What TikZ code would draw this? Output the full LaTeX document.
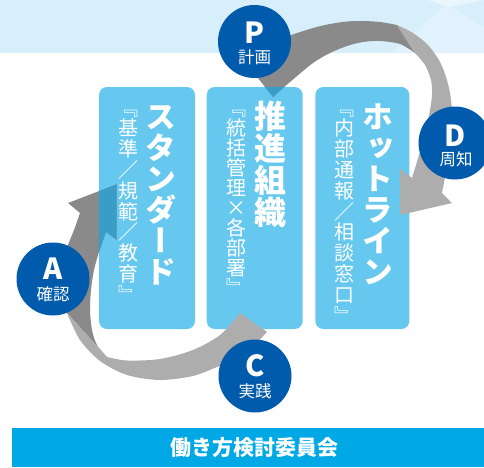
\documentclass[tikz,border=0pt]{standalone}
\usepackage{fontspec}
\setmainfont{Noto Sans CJK JP}
\newfontfamily\vjp[RawFeature=+vert]{Noto Sans CJK JP}
\newcommand\hsl{{\rmfamily ／}}
\definecolor{topband}{HTML}{D7EEFB}
\definecolor{decoa}{HTML}{E2F2FC}
\definecolor{decob}{HTML}{E9F6FD}
\definecolor{boxblue}{HTML}{67C8EF}
\definecolor{circblue}{HTML}{005BAC}
\definecolor{barblue}{HTML}{00A8E6}
\definecolor{arcdark}{HTML}{8A8A8A}
\definecolor{arclight}{HTML}{ADADAD}
\definecolor{ovlp}{HTML}{3A9DC6}
\tikzset{
  cbox/.style={rectangle, fill=boxblue, rounded corners=8pt, inner sep=0pt, minimum width=#1, minimum height=242pt},
  pdca/.style={circle, fill=circblue, minimum size=73pt, inner sep=0pt},
  letter/.style={text=white, inner sep=0pt, font=\bfseries\fontsize{29}{29}\selectfont},
  sublabel/.style={text=white, inner sep=0pt, font=\fontsize{16.5}{16.5}\selectfont},
  vch/.style={text=white, inner sep=0pt, text height={0.88*#1}, text depth={0.12*#1}},
  barbox/.style={rectangle, fill=barblue, inner sep=0pt, minimum width=471.7pt, minimum height=39.3pt},
}
% name, x, first centre y, pitch, size, font, list
\newcommand\vcolumn[7]{%
  \foreach \ch [count=\i from 0] in {#7} {%
    \node[vch=#5, font={#6\fontsize{#5}{#5}\selectfont}] (#1\i) at (#2, #3+#4*\i) {\ch};}}
\newcommand\updark{(250,68) -- (273,97) -- plot[smooth] coordinates {(273,97) (290,82) (313,63) (330,53) (347,46) (363,42) (380,41) (400,44) (415,53)} -- (397,25) -- plot[smooth] coordinates {(397,25) (380,22) (363,21) (347,21.5) (330,24) (313,28) (288,36)} -- (262,48) -- cycle}
\newcommand\lowdark{(80,213) -- (68,203) -- (116.7,184.3) -- (116.7,239.8) -- (106,232) -- plot[smooth] coordinates {(106,232) (99,252) (94,270) (91,290) (90,310) (92,330) (97,345) (107,357)} -- (67,313) -- plot[smooth] coordinates {(67,313) (60,295) (60,270) (66,250) (74,230) (80,213)} -- cycle}
\begin{document}
\begin{tikzpicture}[x=1pt,y=-1pt]
\useasboundingbox (0,0) rectangle (484,467);
% top band
\fill[topband] (0,0) rectangle (484,53);
\fill[decoa] (392,53) -- (446,4) -- (484,27) -- (484,53) -- cycle;
\fill[decob] (428,0) -- (449,7) -- (484,0) -- cycle;
% boxes
\node[cbox=96pt] (b1) at (147,208) {};
\node[cbox=96pt] (b2) at (254.7,208) {};
\node[cbox=94pt] (b3) at (362.3,208) {};
% upper ribbon arrow (P -> D)
\fill[arcdark] \updark;
\fill[arclight] (397,25) -- plot[smooth] coordinates {(397,25) (413,33) (428,45) (440,62) (447,80) (451,100) (452,125) (448,160) (442,193)} -- (452,203) -- (400,215) -- (400,168.7) -- (412,178) -- plot[smooth] coordinates {(412,178) (419,155) (426,130) (430,110) (432,95) (431,80) (425,65) (415,53)} -- cycle;
% lower ribbon arrow (C -> A)
\fill[arcdark] \lowdark;
\fill[arclight] (67,313) -- (107,357) -- plot[smooth] coordinates {(107,357) (127,360.5) (160,359) (193,350) (220,335) (240,313)} -- (267,332) -- (250,350) -- plot[smooth] coordinates {(250,350) (235,360) (217,367) (193,376) (160,380) (127,375) (100,361) (80,340) (67,313)} -- cycle;
% overlaps of dark ribbon parts on boxes
\begin{scope}
  \clip[rounded corners=8pt] (b1.north west) rectangle (b1.south east) (b2.north west) rectangle (b2.south east);
  \fill[ovlp] \updark;
  \fill[ovlp] \lowdark;
\end{scope}
% PDCA circles
\node[pdca] (P) at (254.5,41.5) {};
\node[pdca] (D) at (455,143) {};
\node[pdca] (C) at (255,376) {};
\node[pdca] (A) at (53,279) {};
\node[letter] (Pl) at (254.5,32.5) {P};
\node[sublabel] (Pt) at (254.5,57.5) {計画};
\node[letter] (Dl) at (455,135.5) {D};
\node[sublabel] (Dt) at (456,159.5) {周知};
\node[letter] (Cl) at (255,365.5) {C};
\node[sublabel] (Ct) at (255,391.5) {実践};
\node[letter] (Al) at (53,268.5) {A};
\node[sublabel] (At) at (53,294.5) {確認};
% vertical texts
\vcolumn{ta}{161}{116.5}{31}{31pt}{\vjp\bfseries}{ス,タ,ン,ダ,ー,ド}
\vcolumn{tb}{270}{116}{32}{32pt}{\vjp\bfseries}{推,進,組,織}
\vcolumn{tc}{378}{116.5}{31}{31pt}{\vjp\bfseries}{ホ,ッ,ト,ラ,イ,ン}
\vcolumn{sa}{128}{107.5}{20.8}{20pt}{\vjp}{『,基,準,\hsl,規,範,\hsl,教,育,』}
\vcolumn{sb}{236}{107.5}{20}{20pt}{\vjp}{『,統,括,管,理,×,各,部,署,』}
\vcolumn{sc}{344}{107.5}{20.8}{20pt}{\vjp}{『,内,部,通,報,\hsl,相,談,窓,口,』}
% bottom bar
\node[barbox] (bar) at (248.15,447.35) {};
\node[text=white, inner sep=0pt, font=\bfseries\fontsize{21}{21}\selectfont] (bart) at (254,448) {働き方検討委員会};
\end{tikzpicture}
\end{document}
